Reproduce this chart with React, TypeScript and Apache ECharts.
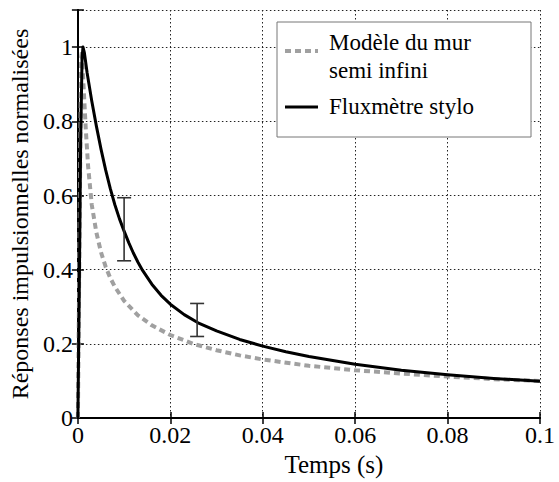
import React, { useEffect, useRef } from "react";
import * as echarts from "echarts";

const xTicks = { min: 0, max: 0.1, interval: 0.02 };
const yTicks = { min: 0, max: 1.1, interval: 0.2 };

const stylusX = [0, 0.0003, 0.0006, 0.0009, 0.0011, 0.0014, 0.002, 0.003, 0.004, 0.005, 0.006, 0.007, 0.008, 0.009, 0.01, 0.011, 0.012, 0.013, 0.014, 0.016, 0.018, 0.02, 0.023, 0.026, 0.03, 0.035, 0.04, 0.045, 0.05, 0.06, 0.07, 0.08, 0.09, 0.1];
const stylusY = [0, 0.35, 0.75, 0.97, 1.0, 0.985, 0.93, 0.855, 0.787, 0.725, 0.669, 0.619, 0.575, 0.537, 0.504, 0.473, 0.445, 0.42, 0.398, 0.361, 0.331, 0.307, 0.279, 0.257, 0.235, 0.212, 0.194, 0.179, 0.166, 0.145, 0.129, 0.117, 0.107, 0.099];

const wallX = [0, 0.0004, 0.0007, 0.0009, 0.0012, 0.0017, 0.0022, 0.003, 0.004, 0.005, 0.006, 0.007, 0.008, 0.01, 0.013, 0.016, 0.02, 0.025, 0.03, 0.035, 0.04, 0.05, 0.06, 0.07, 0.08, 0.09, 0.1];
const wallY = [0, 0.55, 0.97, 0.99, 0.9, 0.78, 0.68, 0.575, 0.5, 0.447, 0.408, 0.378, 0.354, 0.316, 0.277, 0.25, 0.224, 0.2, 0.183, 0.169, 0.158, 0.141, 0.129, 0.12, 0.112, 0.105, 0.1];

const errX = [0.01, 0.0258];
const errLow = [0.424, 0.22];
const errHigh = [0.594, 0.309];

const wallName = "Modèle du mur semi infini";
const stylusName = "Fluxmètre stylo";

const FONT = "Liberation Serif";

export default function App() {
  const ref = useRef<HTMLDivElement>(null);
  useEffect(() => {
    if (!ref.current) return;
    const chart = echarts.init(ref.current, undefined, { renderer: "svg" });
    const labelStyle = { fontFamily: FONT, fontSize: 24, color: "#000" };
    const axisLine = { show: true, lineStyle: { color: "#000", width: 2 } };
    const tick = { show: true, inside: true, length: 6, lineStyle: { color: "#000", width: 1.5 } };
    const split = { show: true, lineStyle: { color: "#222", width: 1, type: [1.5, 2.5] as any } };
    chart.setOption({
      animation: false,
      grid: { left: 77, right: 19, top: 10, bottom: 58 },
      xAxis: [
        {
          type: "value", ...xTicks, position: "bottom",
          axisLine, axisTick: tick, splitLine: split,
          axisLabel: { ...labelStyle, margin: 5 },
          name: "Temps (s)", nameLocation: "middle", nameGap: 29,
          nameTextStyle: { ...labelStyle, fontSize: 25, padding: [0, 0, 0, 50] },
        },
        {
          type: "value", ...xTicks, position: "top",
          axisLine, axisTick: tick, splitLine: { show: false }, axisLabel: { show: false },
        },
      ],
      yAxis: [
        {
          type: "value", ...yTicks, position: "left",
          axisLine, axisTick: tick, splitLine: split,
          axisLabel: {
            ...labelStyle, margin: 5,
            formatter: (v: number) => (v > 1.05 ? "" : String(Math.round(v * 10) / 10)),
          },
          name: "Réponses impulsionnelles normalisées", nameLocation: "middle", nameGap: 42,
          nameTextStyle: labelStyle,
        },
        {
          type: "value", ...yTicks, position: "right",
          axisLine, axisTick: tick, splitLine: { show: false }, axisLabel: { show: false },
        },
      ],
      series: [
        {
          name: wallName, type: "line", xAxisIndex: 0, yAxisIndex: 0,
          data: wallX.map((x, i) => [x, wallY[i]]),
          showSymbol: false, smooth: false,
          lineStyle: { color: "#a0a0a0", width: 4, type: [6, 4] as any },
          z: 3,
        },
        {
          name: stylusName, type: "line", xAxisIndex: 0, yAxisIndex: 0,
          data: stylusX.map((x, i) => [x, stylusY[i]]),
          showSymbol: false, smooth: false,
          lineStyle: { color: "#000", width: 3, join: "round" },
          z: 4,
        },
        {
          name: "Barres d'erreur", type: "custom", xAxisIndex: 0, yAxisIndex: 0,
          data: errX.map((x, i) => [x, errLow[i], errHigh[i]]),
          encode: { x: 0, y: [1, 2] },
          z: 5,
          renderItem: (params: any, api: any) => {
            const lo = api.coord([api.value(0), api.value(1)]);
            const hi = api.coord([api.value(0), api.value(2)]);
            const w = 7;
            const style = { stroke: "#333", lineWidth: 1.6 };
            return {
              type: "group",
              children: [
                { type: "line", shape: { x1: lo[0], y1: lo[1], x2: hi[0], y2: hi[1] }, style },
                { type: "line", shape: { x1: lo[0] - w, y1: lo[1], x2: lo[0] + w, y2: lo[1] }, style },
                { type: "line", shape: { x1: hi[0] - w, y1: hi[1], x2: hi[0] + w, y2: hi[1] }, style },
              ],
            };
          },
        },
      ],
      graphic: [
        { type: "rect", z: 100, shape: { x: 277, y: 22, width: 254, height: 115 }, style: { fill: "#fff", stroke: "#777", lineWidth: 1 } },
        { type: "line", z: 101, shape: { x1: 285, y1: 51, x2: 318, y2: 51 }, style: { stroke: "#a0a0a0", lineWidth: 4, lineDash: [6, 4] } },
        { type: "text", z: 101, x: 329, y: 42, style: { text: "Modèle du mur", fontFamily: FONT, fontSize: 23, fill: "#000", verticalAlign: "middle" } },
        { type: "text", z: 101, x: 329, y: 70, style: { text: "semi infini", fontFamily: FONT, fontSize: 23, fill: "#000", verticalAlign: "middle" } },
        { type: "line", z: 101, shape: { x1: 285, y1: 107, x2: 318, y2: 107 }, style: { stroke: "#000", lineWidth: 3 } },
        { type: "text", z: 101, x: 329, y: 106, style: { text: "Fluxmètre stylo", fontFamily: FONT, fontSize: 23, fill: "#000", verticalAlign: "middle" } },
      ],
    });
    return () => chart.dispose();
  }, []);
  return (
    <div
      ref={ref}
      style={{ position: "fixed", left: 0, top: 0, width: 559, height: 482, background: "#fff" }}
    />
  );
}
